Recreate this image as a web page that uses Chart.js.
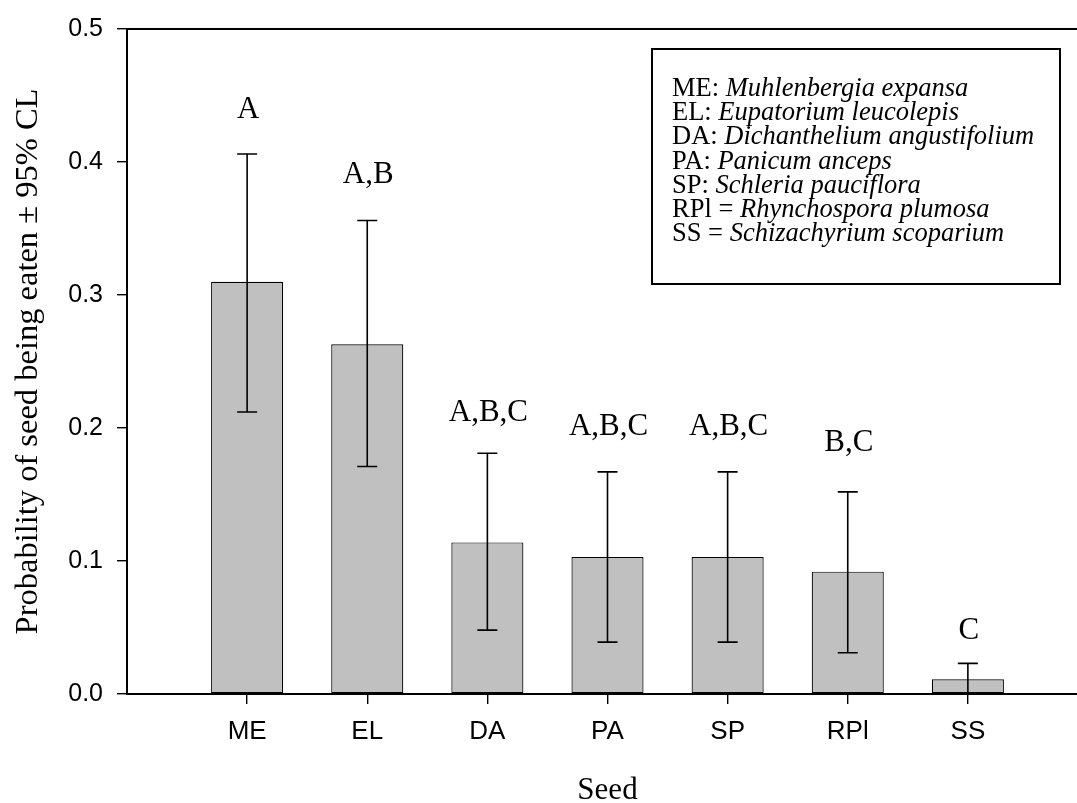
<!DOCTYPE html>
<html>
<head>
<meta charset="utf-8">
<script src="https://cdn.jsdelivr.net/npm/chart.js@4/dist/chart.umd.min.js"></script>
<style>
  html, body { margin: 0; padding: 0; background: #fff; overflow: hidden; }
  #wrap { position: relative; width: 1088px; height: 803px; }
</style>
</head>
<body>
<div id="wrap"><canvas id="c"></canvas></div>
<script>
// ---- data ----
const categories = ['ME', 'EL', 'DA', 'PA', 'SP', 'RPl', 'SS'];
const probability = [0.310, 0.263, 0.114, 0.103, 0.103, 0.092, 0.011];
const upperCL = [0.406, 0.356, 0.181, 0.167, 0.167, 0.152, 0.023];
const lowerCL = [0.212, 0.171, 0.048, 0.039, 0.039, 0.031, 0.000];
const groupLetters = ['A', 'A,B', 'A,B,C', 'A,B,C', 'A,B,C', 'B,C', 'C'];
const letterAt = [0.433, 0.384, 0.205, 0.195, 0.195, 0.183, 0.041];
const yTickValues = [0.0, 0.1, 0.2, 0.3, 0.4, 0.5];
const legendCodes = ['ME: ', 'EL: ', 'DA: ', 'PA: ', 'SP: ', 'RPl = ', 'SS = '];
const legendNames = ['Muhlenbergia expansa', 'Eupatorium leucolepis', 'Dichanthelium angustifolium',
  'Panicum anceps', 'Schleria pauciflora', 'Rhynchospora plumosa', 'Schizachyrium scoparium'];
const yTitle = 'Probability of seed being eaten \u00B1 95% CL';
const xTitle = 'Seed';

const serif = "'Liberation Serif', 'Times New Roman', serif";
const sans = "'Liberation Sans', Arial, sans-serif";

const points = categories.map((c, i) => ({ x: i + 1, y: probability[i] }));

const extras = {
  id: 'extras',
  afterDatasetsDraw(chart) {
    const { ctx, chartArea, scales: { x, y } } = chart;
    ctx.save();
    // error bars
    ctx.strokeStyle = '#000';
    ctx.lineWidth = 1.6;
    const cap = 10;
    categories.forEach((c, i) => {
      const px = x.getPixelForValue(i + 1);
      const yt = y.getPixelForValue(upperCL[i]);
      const yb = y.getPixelForValue(lowerCL[i]);
      ctx.beginPath();
      ctx.moveTo(px, yt); ctx.lineTo(px, yb);
      ctx.moveTo(px - cap, yt); ctx.lineTo(px + cap, yt);
      ctx.moveTo(px - cap, yb); ctx.lineTo(px + cap, yb);
      ctx.stroke();
    });
    // group letters
    ctx.fillStyle = '#000';
    ctx.font = '31px ' + serif;
    ctx.textAlign = 'center';
    ctx.textBaseline = 'alphabetic';
    groupLetters.forEach((t, i) => {
      ctx.fillText(t, x.getPixelForValue(i + 1) + 1, y.getPixelForValue(letterAt[i]));
    });
    // top frame line
    ctx.lineWidth = 2;
    ctx.beginPath();
    ctx.moveTo(chartArea.left - 1, chartArea.top);
    ctx.lineTo(chartArea.right, chartArea.top);
    ctx.stroke();
    // legend box
    const bx = 652, by = 49, bw = 408, bh = 235;
    ctx.lineWidth = 2;
    ctx.strokeRect(bx, by, bw, bh);
    ctx.textAlign = 'left';
    legendCodes.forEach((code, i) => {
      const ty = 96 + i * 24.2;
      ctx.font = '26.5px ' + serif;
      ctx.fillText(code, 672, ty);
      const w = ctx.measureText(code).width;
      ctx.font = 'italic 26.5px ' + serif;
      ctx.fillText(legendNames[i], 672 + w, ty);
    });
    ctx.restore();
  }
};

new Chart(document.getElementById('c'), {
  type: 'bar',
  data: {
    datasets: [{
      data: points,
      backgroundColor: '#c0c0c0',
      borderColor: '#000',
      borderWidth: 1.2,
      borderSkipped: false,
      barPercentage: 0.6,
      categoryPercentage: 1.0
    }]
  },
  options: {
    responsive: true,
    maintainAspectRatio: false,
    animation: false,
    layout: { padding: { top: 22, left: 0, right: 0, bottom: 0 } },
    plugins: { legend: { display: false }, tooltip: { enabled: false } },
    scales: {
      x: {
        type: 'linear',
        offset: false,
        min: 0,
        max: 8,
        afterBuildTicks: s => { s.ticks = categories.map((c, i) => ({ value: i + 1 })); },
        afterFit: s => { s.height = 109; },
        ticks: {
          autoSkip: false,
          maxRotation: 0,
          padding: 12,
          color: '#000',
          font: { family: sans, size: 26 },
          callback: v => categories[v - 1]
        },
        grid: { offset: false, drawOnChartArea: false, drawTicks: true, tickLength: 10, color: '#000', lineWidth: 1.4 },
        border: { display: true, color: '#000', width: 2 },
        title: {
          display: true, text: xTitle, color: '#000',
          font: { family: serif, size: 31, lineHeight: 0.77 },
          padding: { top: 0, bottom: 0 }
        }
      },
      y: {
        min: 0,
        max: 0.5,
        afterBuildTicks: s => { s.ticks = yTickValues.map(v => ({ value: v })); },
        afterFit: s => { s.width = 127; },
        ticks: {
          padding: 14,
          color: '#000',
          font: { family: sans, size: 25 },
          callback: v => v.toFixed(1)
        },
        grid: { drawOnChartArea: false, drawTicks: true, tickLength: 10, color: '#000', lineWidth: 1.4 },
        border: { display: true, color: '#000', width: 2 },
        title: {
          display: true, text: yTitle, color: '#000',
          font: { family: serif, size: 32.5, lineHeight: 1 },
          padding: { top: 12, bottom: 0 }
        }
      }
    }
  },
  plugins: [extras]
});
</script>
</body>
</html>
